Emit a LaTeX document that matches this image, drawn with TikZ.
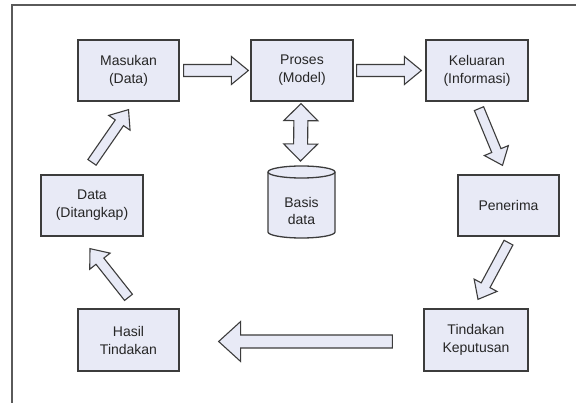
\documentclass[tikz,border=0pt]{standalone}
\usepackage{fontspec}
\setmainfont{Liberation Sans}
\usetikzlibrary{calc}
\definecolor{boxfill}{HTML}{E8EAF6}
\definecolor{boxline}{HTML}{3C3C3C}
\definecolor{framecol}{HTML}{5A5A5A}
\definecolor{txt}{HTML}{262626}
\tikzset{
  box/.style={draw=boxline, fill=boxfill, line width=1.3pt, minimum width=101pt,
    minimum height=61pt, align=center, font=\fontsize{14}{18}\selectfont,
    text=txt, inner sep=0pt},
  barrow/.style={draw=boxline, fill=boxfill, line width=1.1pt, line join=miter},
  cyl/.style={draw=boxline, fill=boxfill, line width=1.3pt},
}
% #1 start, #2 end, #3 shaft half width, #4 head half width, #5 head length
\newcommand\blockarr[5]{%
  \coordinate (tmpH) at ($(#2)!#5!(#1)$);
  \draw[barrow] ($(#1)!#3!90:(#2)$) -- ($(tmpH)!#3!90:(#2)$) -- ($(tmpH)!#4!90:(#2)$)
    -- (#2) -- ($(tmpH)!#4!-90:(#2)$) -- ($(tmpH)!#3!-90:(#2)$)
    -- ($(#1)!#3!-90:(#2)$) -- cycle;}
\newcommand\dblockarr[5]{%
  \coordinate (tmpA) at ($(#1)!#5!(#2)$);
  \coordinate (tmpB) at ($(#2)!#5!(#1)$);
  \draw[barrow] (#1) -- ($(tmpA)!#4!90:(#2)$) -- ($(tmpA)!#3!90:(#2)$)
    -- ($(tmpB)!#3!90:(#2)$) -- ($(tmpB)!#4!90:(#2)$) -- (#2)
    -- ($(tmpB)!#4!-90:(#2)$) -- ($(tmpB)!#3!-90:(#2)$)
    -- ($(tmpA)!#3!-90:(#2)$) -- ($(tmpA)!#4!-90:(#2)$) -- cycle;}
\begin{document}
\begin{tikzpicture}[x=1pt, y=-1pt]
\useasboundingbox (0,0) rectangle (576,403);
\fill[white] (0,0) rectangle (576,403);
% frame
\draw[framecol, line width=1.5pt] (12,403) -- (12,5) -- (576,5);

% boxes
\node[box] (masukan)  at (128.5,70.5) {Masukan\\(Data)};
\node[box, minimum width=102pt] (proses)   at (302,70.5)   {Proses\\(Model)};
\node[box, minimum width=102pt] (keluaran) at (477,70.5)   {Keluaran\\(Informasi)};
\node[box] (penerima) at (508.5,205.5) {Penerima};
\node[box, minimum width=104pt, minimum height=62pt] (tindakan) at (476,340) {Tindakan\\Keputusan};
\node[box, minimum height=62pt] (hasil) at (128.5,340) {Hasil\\Tindakan};
\node[box, minimum width=102pt] (data) at (92,205.5) {Data\\(Ditangkap)};

% database cylinder
\draw[cyl] (268,172) -- (268,232) arc[start angle=180, end angle=360, x radius=33.5pt, y radius=6pt]
  -- (335,172) arc[start angle=0, end angle=180, x radius=33.5pt, y radius=6pt] -- cycle;
\draw[boxline, line width=1.3pt] (268,172) arc[start angle=180, end angle=360, x radius=33.5pt, y radius=6pt];
\node[align=center, font=\fontsize{14}{16.5}\selectfont, text=txt] (basis) at (301.5,211) {Basis\\data};
\coordinate (basistop) at (301.5,166);

% connector end points
\coordinate (a1) at ($(masukan.east)+(4,0)$);
\coordinate (a2) at ($(proses.west)+(-2,0)$);
\coordinate (b1) at ($(proses.east)+(3,0)$);
\coordinate (b2) at ($(keluaran.west)+(-4,0)$);
\coordinate (d1) at ($(proses.south)+(-1,2)$);
\coordinate (d2) at ($(basistop)+(-1,-5)$);
\coordinate (c1) at ($(keluaran.south)+(2,7)$);
\coordinate (c2) at ($(penerima.north)+(-6,-9)$);
\coordinate (e1) at ($(penerima.south)+(0,6)$);
\coordinate (e2) at ($(tindakan.north)+(2,-9)$);
\coordinate (f1) at ($(tindakan.west)+(-31,1.5)$);
\coordinate (f2) at ($(hasil.east)+(39,1.5)$);
\coordinate (g1) at ($(hasil.north)+(0,-11)$);
\coordinate (g2) at ($(data.south)+(-2,12)$);
\coordinate (h1) at ($(data.north)+(0,-12)$);
\coordinate (h2) at ($(masukan.south)+(0,8)$);

% block arrows
\blockarr{a1}{a2}{6pt}{14pt}{17pt}
\blockarr{b1}{b2}{6pt}{14pt}{17pt}
\dblockarr{d1}{d2}{7pt}{17pt}{17pt}
\blockarr{c1}{c2}{5pt}{13pt}{16pt}
\blockarr{e1}{e2}{5pt}{13pt}{16pt}
\blockarr{f1}{f2}{6.5pt}{20pt}{22pt}
\blockarr{g1}{g2}{5pt}{13pt}{16pt}
\blockarr{h1}{h2}{5pt}{13pt}{16pt}
\end{tikzpicture}
\end{document}
